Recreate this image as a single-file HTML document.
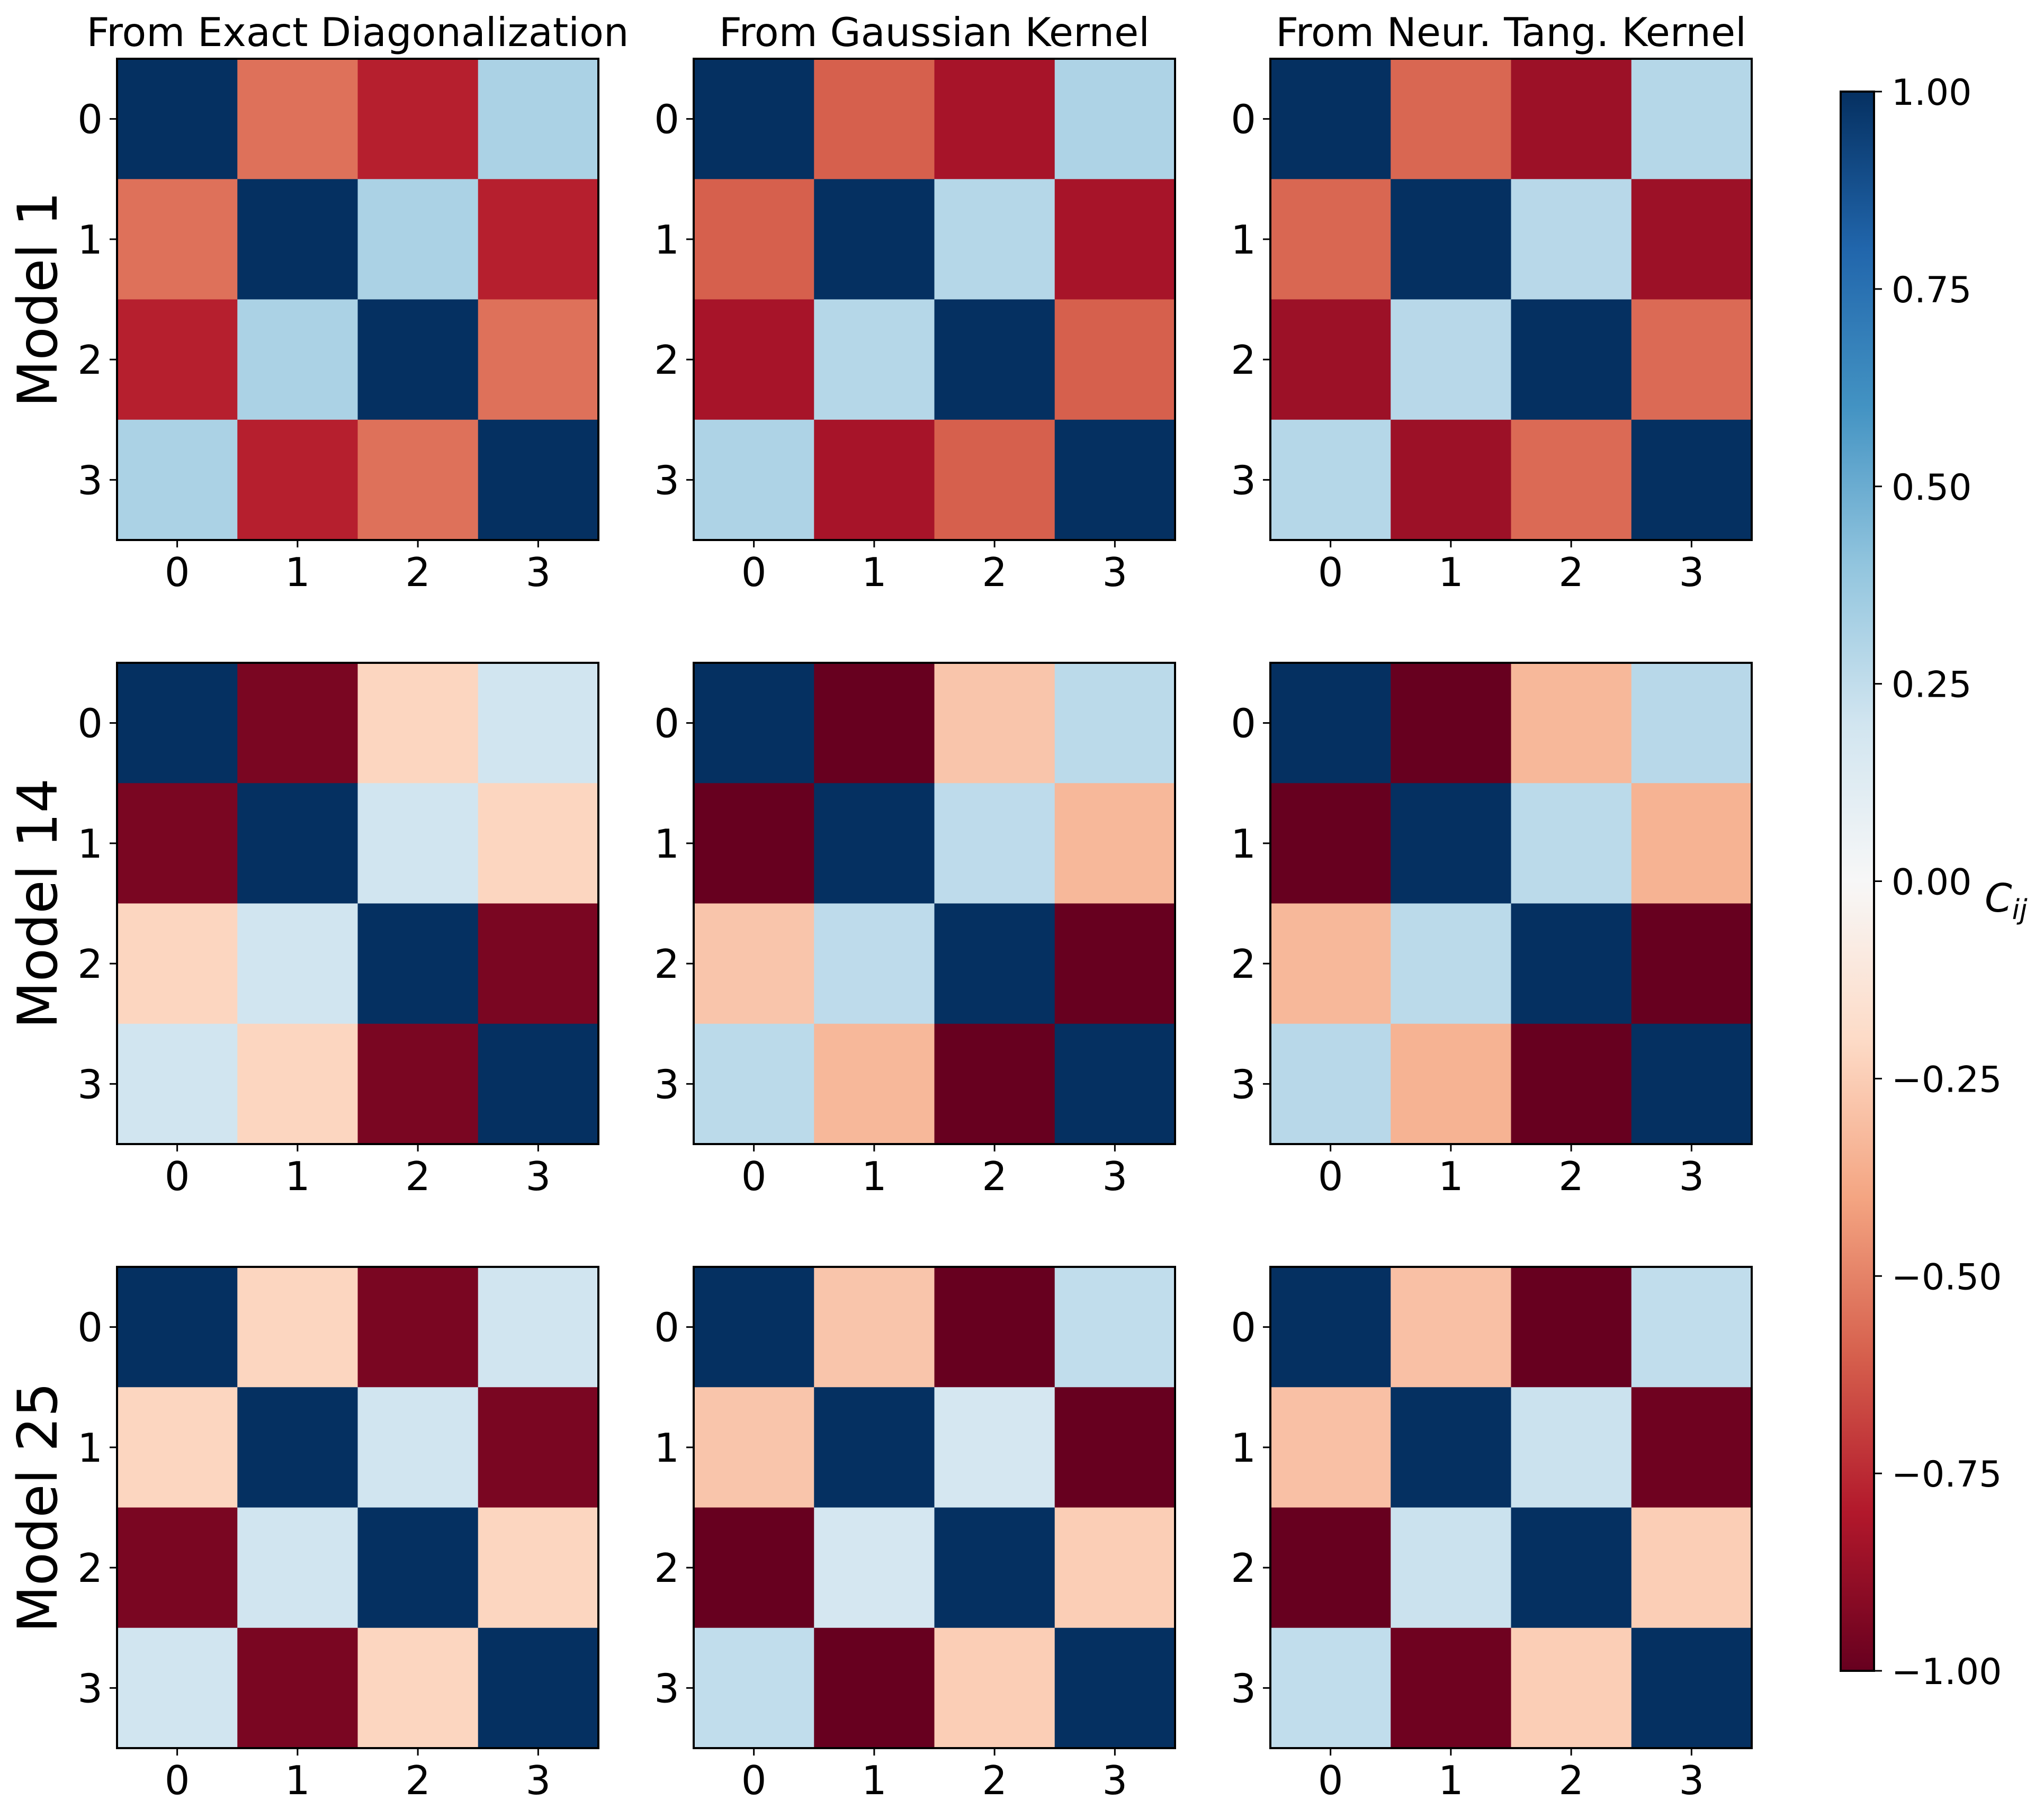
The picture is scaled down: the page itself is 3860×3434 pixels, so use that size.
<!DOCTYPE html>
<html><head><meta charset="utf-8"><style>
html,body{margin:0;padding:0;background:#fff;}
svg{display:block;font-family:"DejaVu Sans","Liberation Sans",sans-serif;}
</style></head><body>
<svg id="fig" width="3860" height="3434" viewBox="0 0 3860 3434" xmlns="http://www.w3.org/2000/svg">
<defs><linearGradient id="cbgrad" x1="0" y1="1" x2="0" y2="0"></linearGradient></defs>
</svg>
<script>
const colTitles = ["From Exact Diagonalization","From Gaussian Kernel","From Neur. Tang. Kernel"];
const rowLabels = ["Model 1","Model 14","Model 25"];
const tickLabels = ["0","1","2","3"];
const cbTicks = [1.00,0.75,0.50,0.25,0.00,-0.25,-0.50,-0.75,-1.00];
// upper-triangle off-diagonal values: (0,1),(0,2),(0,3),(1,2),(1,3),(2,3)
const m1ED = [-0.55,-0.78,0.32,0.32,-0.78,-0.55];
const m1GK = [-0.60,-0.83,0.31,0.29,-0.83,-0.60];
const m1NTK = [-0.58,-0.86,0.29,0.28,-0.86,-0.57];
const m14ED = [-0.95,-0.22,0.20,0.20,-0.22,-0.95];
const m14GK = [-1.00,-0.28,0.27,0.26,-0.33,-1.00];
const m14NTK = [-1.00,-0.33,0.28,0.27,-0.35,-1.00];
const m25ED = [-0.22,-0.95,0.20,0.20,-0.95,-0.22];
const m25GK = [-0.28,-1.00,0.25,0.18,-1.00,-0.25];
const m25NTK = [-0.30,-1.00,0.25,0.22,-0.98,-0.25];
const panels = [[m1ED,m1GK,m1NTK],[m14ED,m14GK,m14NTK],[m25ED,m25GK,m25NTK]];

const NS="http://www.w3.org/2000/svg";
const svg=document.getElementById('fig');
function mk(tag,attrs,parent){const e=document.createElementNS(NS,tag);for(const k in attrs)e.setAttribute(k,attrs[k]);(parent||svg).appendChild(e);return e;}
const rdbu=["#67001f","#b2182b","#d6604d","#f4a582","#fddbc7","#f7f7f7","#d1e5f0","#92c5de","#4393c3","#2166ac","#053061"];
function hex(h){return [1,3,5].map(i=>parseInt(h.substr(i,2),16));}
function cmap(v){let t=(Math.max(-1,Math.min(1,v))+1)/2*10;let i=Math.min(9,Math.floor(t));let f=t-i;const a=hex(rdbu[i]),b=hex(rdbu[i+1]);return "rgb("+a.map((x,k)=>Math.round(x+(b[k]-x)*f)).join(",")+")";}
function full(u){const idx=[[null,0,1,2],[0,null,3,4],[1,3,null,5],[2,4,5,null]];return idx.map((r,i)=>r.map((k,j)=>i===j?1:u[k]));}

const X0=221,DX=1089,Y0=111,DY=1141,S=909,C=S/4;
function xs(c,j){return X0+c*DX+j*C;}
function ys(r,i){return Y0+r*DY+i*C;}

for(let r=0;r<3;r++){
  for(let c=0;c<3;c++){
    const g=mk('g',{});
    
    
    const M=full(panels[r][c]);
    for(let i=0;i<4;i++)for(let j=0;j<4;j++){
      const cell=mk('rect',{x:xs(c,j),y:ys(r,i),width:C+0.6,height:C+0.6,fill:cmap(M[i][j])},g);
      
      
    }
    const fr=mk('rect',{x:xs(c,0),y:ys(r,0),width:S,height:S,fill:'none',stroke:'#000','stroke-width':4},g);
    
    
    for(let k=0;k<4;k++){
      const cx=xs(c,k)+C/2, cy=ys(r,k)+C/2;
      mk('line',{x1:cx,x2:cx,y1:ys(r,4),y2:ys(r,4)+14,stroke:'#000','stroke-width':3},g);
      mk('line',{x1:xs(c,0),x2:xs(c,0)-14,y1:cy,y2:cy,stroke:'#000','stroke-width':3},g);
      const xt=mk('text',{x:cx,y:ys(r,4)+87,'font-size':75,'text-anchor':'middle'},g);
      xt.textContent=tickLabels[k];
      
      
      const yt=mk('text',{x:xs(c,0)-27,y:cy+27,'font-size':75,'text-anchor':'end'},g);
      yt.textContent=tickLabels[k];
      
      
    }
  }
}
for(let c=0;c<3;c++){
  const t=mk('text',{x:xs(c,0)+S/2,y:87,'font-size':75,'text-anchor':'middle'});
  t.textContent=colTitles[c];
  
  
}
for(let r=0;r<3;r++){
  const cy=ys(r,0)+S/2;
  const t=mk('text',{x:0,y:0,'font-size':103,'text-anchor':'middle',transform:'translate(107,'+cy+') rotate(-90)'});
  t.textContent=rowLabels[r];
  
  
}
// colorbar
const grad=document.getElementById('cbgrad');
rdbu.forEach((h,i)=>mk('stop',{offset:(i/10),'stop-color':h},grad));
const CBX=3476,CBW=63,CBT=173,CBB=3156;
function cby(v){return CBB-(v+1)/2*(CBB-CBT);}
const cbg=mk('g',{});


mk('rect',{x:CBX,y:CBT,width:CBW,height:CBB-CBT,fill:'url(#cbgrad)',stroke:'#000','stroke-width':4},cbg);
cbTicks.forEach(v=>{
  const y=cby(v);
  mk('line',{x1:CBX+CBW,x2:CBX+CBW+15,y1:y,y2:y,stroke:'#000','stroke-width':3},cbg);
  const t=mk('text',{x:3572,y:y+25,'font-size':68},cbg);
  t.textContent=(v<0?'\u2212':'')+Math.abs(v).toFixed(2);
  
  
});
const lab=mk('text',{x:3748,y:1722,'font-size':74,'font-style':'italic'});
lab.innerHTML='C<tspan font-size="52" dy="14">ij</tspan>';


</script>
</body></html>
